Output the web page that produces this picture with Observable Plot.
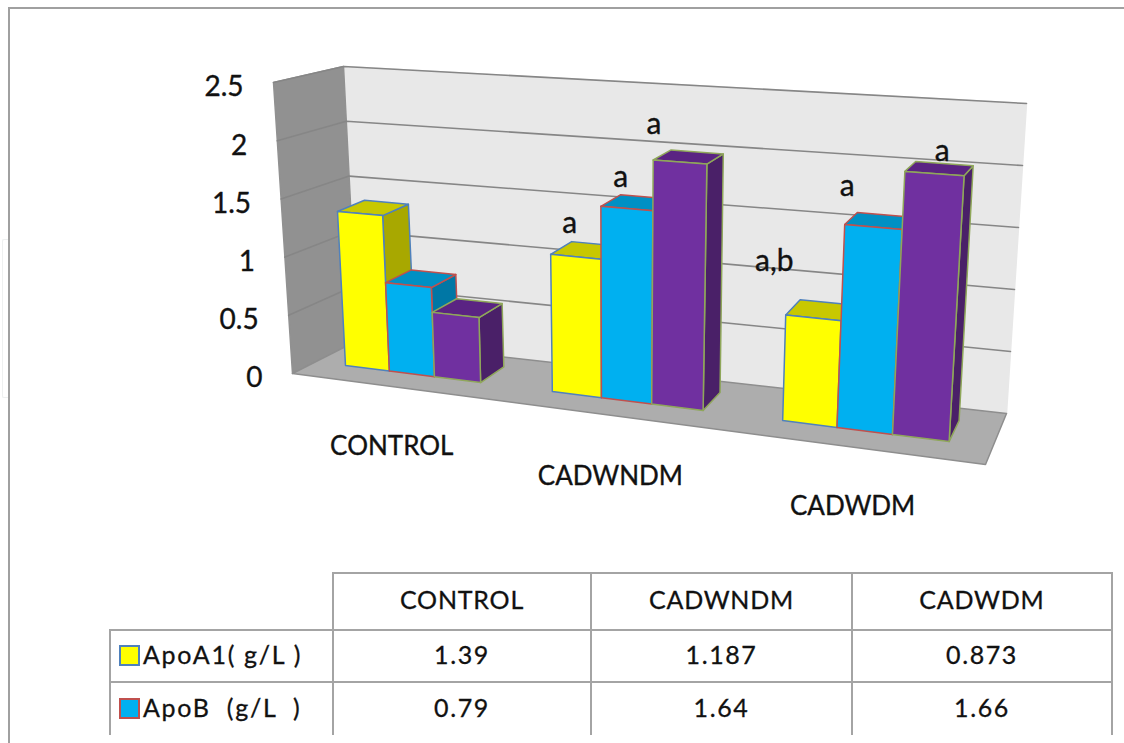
<!DOCTYPE html>
<html>
<head>
<meta charset="utf-8">
<script src="https://cdn.jsdelivr.net/npm/d3@7"></script>
<script src="https://cdn.jsdelivr.net/npm/@observablehq/plot@0.6"></script>
<style>
  html, body { margin: 0; padding: 0; background: #fff; overflow: hidden; }
  #page { position: relative; width: 1124px; height: 743px; overflow: hidden; font-family: Lato, sans-serif; color: #111; }
  #frameTop { position: absolute; left: 8px; top: 7px; right: 0; height: 2px; background: #a0a0a0; }
  #frameLeft { position: absolute; left: 8px; top: 7px; bottom: 0; width: 2px; background: #a0a0a0; }
  #ghost { position: absolute; left: 2px; top: 239px; width: 6px; height: 157px; border: 1px solid #eef0f0; border-right: 0; border-radius: 2px 0 0 2px; }
  #chart { position: absolute; left: 0; top: 0; }
  #tableWrap { position: absolute; left: 109px; top: 572px; width: 1006px; height: 163px; overflow: hidden; }
  table { border-collapse: collapse; table-layout: fixed; width: 1002px; }
  td { border: 2px solid #a4a4a4; text-align: center; font-size: 25px; padding: 0 0 5px 0; letter-spacing: .8px; overflow: hidden; white-space: pre; -webkit-text-stroke: .3px #111; }
  td.corner { border-top-style: none; border-left-style: none; }
  td.rowName { text-align: left; padding-left: 8px; letter-spacing: 1.7px; }
  td.num { letter-spacing: 1.6px; }
  tr.last td { border-bottom-style: none; }
  .swatch { display: inline-block; width: 17px; height: 17px; border: 2px solid; margin-right: 3px; vertical-align: -2px; }
</style>
</head>
<body>
<div id="page">
  <div id="ghost"></div>
  <div id="frameTop"></div>
  <div id="frameLeft"></div>
  <div id="chart"></div>
  <div id="tableWrap"></div>
</div>
<script>
// ---------- data ----------
const categories = ["CONTROL", "CADWNDM", "CADWDM"];
const apoA1 = [1.39, 1.187, 0.873];
const apoB = [0.79, 1.64, 1.66];
const thirdSeries = [0.57, 2.07, 2.13];   // (its table row is cropped)
const axisTicks = [0, 0.5, 1, 1.5, 2, 2.5];
const rowNames = ["ApoA1( g/L )", "ApoB  (g/L  )"];
const labelsBySeries = [
  [null, "a", "a,b"],
  [null, "a", "a"],
  [null, "a", "a"]
];

// ---------- oblique 3D view (style only) ----------
const maxV = 2.5;
const lerp = (a, b, t) => a + (b - a) * t;
const mix = (p, q, t) => [lerp(p[0], q[0], t), lerp(p[1], q[1], t)];
// a plane is [bottom-left, top-left, bottom-right, top-right]
const plane = (P, u, v) => mix(mix(P[0], P[1], v / maxV), mix(P[2], P[3], v / maxV), u);

const backWall = [[357, 340], [343, 66], [1006, 413], [1026, 103]];
const sideWall = [[292, 373], [273, 82], [357, 340], [343, 66]];
const floorFront = [292, 373], floorFrontR = [985, 464];

const barFront = [[345, 365], [330.6, 88], [948, 441], [965.5, 129]];
const barBack = [[372, 351], [357.6, 79], [958, 420], [974.5, 121]];

const spacing = t => 0.3235 * t + 0.0195 * t * t;
const barWidth = 0.222;

const seriesStyle = [
  {values: apoA1, front: "#FFFF00", top: "#C8C800", side: "#A8A800", stroke: "#4F81BD"},
  {values: apoB, front: "#00B0F0", top: "#0090C4", side: "#0077A5", stroke: "#C0504D"},
  {values: thirdSeries, front: "#7030A0", top: "#5A2383", side: "#4A2068", stroke: "#8FA75A"}
];

const polys = [];
let pid = 0;
function poly(points, fill, stroke) {
  const id = pid++;
  [...points, points[0]].forEach(p => polys.push({id, x: p[0], y: p[1], fill, stroke}));
}
// walls
poly([plane(backWall,0,0), plane(backWall,0,maxV), plane(backWall,1,maxV), plane(backWall,1,0)], "#E8E8E8", "#E8E8E8");
poly([plane(sideWall,0,0), plane(sideWall,0,maxV), plane(sideWall,1,maxV), plane(sideWall,1,0)], "#919191", "#919191");
poly([floorFront, floorFrontR, plane(backWall,1,0), plane(backWall,0,0)], "#ADADAD", "#8E8E8E");

// bars
categories.forEach((c, g) => {
  seriesStyle.forEach((s, i) => {
    const v = s.values[g];
    const u0 = spacing(g + i * barWidth), u1 = spacing(g + (i + 1) * barWidth);
    const f = (u, val) => plane(barFront, u, val);
    const b = (u, val) => plane(barBack, u, val);
    poly([f(u1,0), f(u1,v), b(u1,v), b(u1,0)], s.side, s.stroke);
    poly([f(u0,v), b(u0,v), b(u1,v), f(u1,v)], s.top, s.stroke);
    poly([f(u0,0), f(u0,v), f(u1,v), f(u1,0)], s.front, s.stroke);
  });
});

// gridlines follow the side wall, then the back wall
const grid = axisTicks.slice(1).flatMap(v => [
  {v, p: plane(sideWall,0,v)}, {v, p: plane(sideWall,1,v)}, {v, p: plane(backWall,1,v)}
]);

// labels
const tickLabels = axisTicks.map(v => {
  const p = plane(sideWall, 0, v);
  return {text: String(v), x: p[0] - 30, y: p[1] + 5};
});
const categoryNudge = [[-20, 73], [-16, 76], [-12, 76]];
const categoryLabels = categories.map((c, g) => {
  const p = plane(barFront, spacing(g + 1.5 * barWidth), 0);
  return {text: c, x: p[0] + categoryNudge[g][0], y: p[1] + categoryNudge[g][1]};
});
const letterNudge = [
  [null, [-6, -33], [-39, -56]],
  [null, [-6, -31], [-26, -41]],
  [null, [-26, -38], [8, -22]]
];
const letters = [];
labelsBySeries.forEach((row, i) => row.forEach((t, g) => {
  if (!t) return;
  const v = seriesStyle[i].values[g];
  const p = plane(barFront, spacing(g + (i + 0.5) * barWidth), v);
  letters.push({text: t, x: p[0] + letterNudge[i][g][0], y: p[1] + letterNudge[i][g][1]});
}));

const textStyle = {fontFamily: "Lato", fill: "#111", stroke: "#111", strokeWidth: 0.35};

const chart = Plot.plot({
  width: 1124,
  height: 572,
  margin: 0,
  x: {domain: [0, 1124], range: [0, 1124], axis: null},
  y: {domain: [0, 572], range: [0, 572], axis: null},
  color: {type: "identity"},
  style: {background: "transparent"},
  marks: [
    Plot.line(polys.filter(d => d.id < 3), {x: "x", y: "y", z: "id", fill: "fill", stroke: "stroke", strokeWidth: 1.5, curve: "linear"}),
    Plot.line(grid, {x: d => d.p[0], y: d => d.p[1], z: "v", stroke: "#868686", strokeWidth: 1.6, curve: "linear"}),
    Plot.line(polys.filter(d => d.id >= 3), {x: "x", y: "y", z: "id", fill: "fill", stroke: "stroke", strokeWidth: 1.5, strokeLinejoin: "round", curve: "linear"}),
    Plot.text(tickLabels, {x: "x", y: "y", text: "text", textAnchor: "end", fontSize: 28, ...textStyle}),
    Plot.text(categoryLabels, {x: "x", y: "y", text: "text", fontSize: 26, ...textStyle}),
    Plot.text(letters, {x: "x", y: "y", text: "text", fontSize: 30, ...textStyle})
  ]
});
document.getElementById("chart").append(chart);

// ---------- table below the chart ----------
const colWidths = [223, 258, 261, 260];
const tableRows = [
  {h: 57, cells: ["", ...categories]},
  {h: 52, name: 0, cells: [rowNames[0], ...apoA1.map(String)]},
  {h: 53, name: 1, cells: [rowNames[1], ...apoB.map(String)]}
];
const tbl = document.createElement("table");
const cg = document.createElement("colgroup");
colWidths.forEach(w => { const c = document.createElement("col"); c.style.width = w + "px"; cg.append(c); });
tbl.append(cg);
tableRows.forEach((r, ri) => {
  const tr = document.createElement("tr");
  tr.style.height = r.h + "px";
  if (ri === tableRows.length - 1) tr.className = "last";
  r.cells.forEach((txt, j) => {
    const td = document.createElement("td");
    if (r.name === undefined && j === 0) td.className = "corner";
    if (r.name !== undefined && j > 0) td.className = "num";
    if (r.name !== undefined && j === 0) {
      td.className = "rowName";
      const sw = document.createElement("span");
      sw.className = "swatch";
      sw.style.background = seriesStyle[r.name].front;
      sw.style.borderColor = seriesStyle[r.name].stroke;
      td.append(sw);
    }
    td.append(txt);
    tr.append(td);
  });
  tbl.append(tr);
});
document.getElementById("tableWrap").append(tbl);
</script>
</body>
</html>
